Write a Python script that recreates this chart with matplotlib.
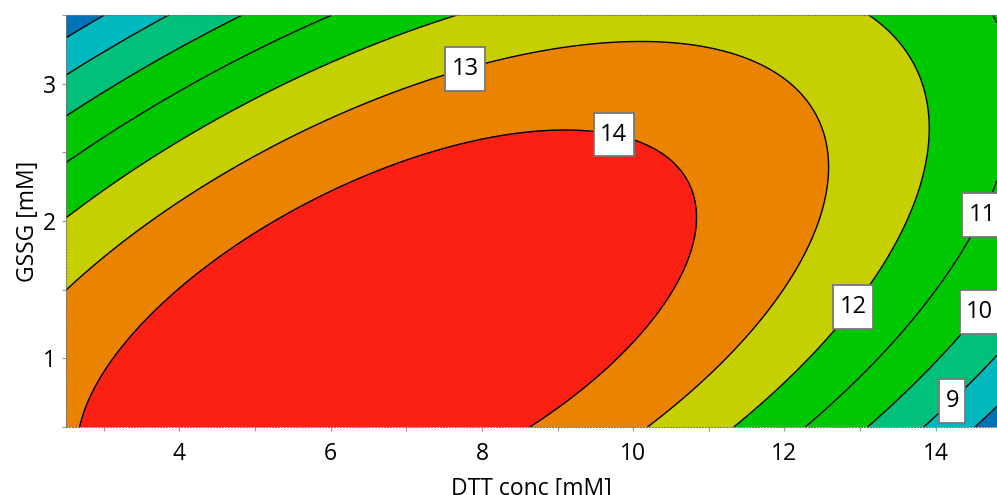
import numpy as np
import matplotlib
matplotlib.use("Agg")
from matplotlib import pyplot as plt
from matplotlib.path import Path
from matplotlib.ticker import MultipleLocator

plt.rcParams['font.family'] = ['Open Sans', 'DejaVu Sans']

# contour points, grouped by level
lvl8 = [(2.5, 3.327), (3.06, 3.51), (14.56, 0.513), (14.81, 0.65)]
lvl9 = [(2.5, 3.055), (3.88, 3.51), (13.885, 0.513), (14.81, 1.015), (14.2, 0.72)]
lvl10 = [(2.5, 2.764), (3.39, 3.13), (4.87, 3.51), (13.13, 0.513), (14.36, 1.18), (14.57, 1.33)]
lvl11 = [(2.5, 2.429), (4.28, 2.985), (6.03, 3.5), (14.78, 3.5), (14.81, 2.31),
         (14.19, 1.655), (12.74, 0.73), (12.30, 0.513)]
lvl12 = [(2.5, 2.015), (6.0, 3.145), (7.69, 3.5), (13.1, 3.5), (13.70, 3.13), (13.9, 2.695),
         (13.44, 1.8), (13.17, 1.53), (11.37, 0.513)]
lvl13 = [(2.5, 1.491), (6.0, 2.76), (7.55, 3.06), (8.07, 3.17), (10.4, 3.31), (11.9, 3.06),
         (12.51, 2.65), (12.58, 2.38), (12.3, 1.8), (10.36, 0.585), (10.22, 0.513)]
lvl14 = [(2.69, 0.513), (3.18, 1.07), (4.71, 1.8), (6.0, 2.22), (7.32, 2.505), (9.0, 2.67),
         (10.36, 2.505), (10.62, 2.40), (10.82, 2.04), (10.75, 1.8), (10.36, 1.36), (8.68, 0.513)]
traced = {8: lvl8, 9: lvl9, 10: lvl10, 11: lvl11, 12: lvl12, 13: lvl13, 14: lvl14}

levels = [8, 9, 10, 11, 12, 13, 14]
labelled = [9, 10, 11, 12, 13, 14]
band_colors = ['#0072b8', '#00b9be', '#00c07c', '#00c800', '#00c800',
               '#c6d000', '#e98300', '#fb2013']
label_pos = [(14.22, 0.69), (14.57, 1.34), (14.59, 2.05), (12.89, 1.38), (7.78, 3.11), (9.75, 2.65)]
xlim = (2.5, 14.81)
ylim = (0.5, 3.5)


def terms(x, y):
    u = (x - 8.5) / 6.0
    v = (y - 2.0) / 1.5
    return np.stack([np.ones_like(u), u, v, u*u, u*v, v*v, u**3, u*u*v, u*v*v, v**3], axis=-1)


def label_box(x0, y0, width, height, mutation_size):
    # square box, a bit more room above/below than at the sides
    px = 0.27 * mutation_size
    py = 0.42 * mutation_size
    x0, y0 = x0 - px, y0 - py
    x1, y1 = x0 + width + 2*px, y0 + height + 2*py
    return Path([(x0, y0), (x1, y0), (x1, y1), (x0, y1), (x0, y0)], closed=True)


# response surface fitted to the traced contour points
pts = np.array([(x, y, lv) for lv, p in traced.items() for x, y in p])
A = terms(pts[:, 0], pts[:, 1])
coef, *_ = np.linalg.lstsq(A, pts[:, 2], rcond=None)

gx = np.linspace(xlim[0], xlim[1], 400)
gy = np.linspace(ylim[0], ylim[1], 300)
X, Y = np.meshgrid(gx, gy)
Z = terms(X, Y) @ coef

fig = plt.figure(figsize=(9.97, 4.95), dpi=100)
ax = fig.add_axes([0.0662, 0.1374, 0.9338, 0.8323])

fill_levels = [min(Z.min(), 7) - 1] + levels + [max(Z.max(), 15) + 1]
ax.contourf(X, Y, Z, levels=fill_levels, colors=band_colors)
ax.contour(X, Y, Z, levels=[8], colors='black', linewidths=1.0)
cs = ax.contour(X, Y, Z, levels=labelled, colors='black', linewidths=1.0)
labels = ax.clabel(cs, manual=label_pos, inline=True, fmt='%d', fontsize=17, inline_spacing=2)
for t in labels:
    t.set_rotation(0)
    t.set_bbox(dict(boxstyle=label_box, facecolor='white', edgecolor='#777777', linewidth=1.3))

ax.set_xlim(*xlim)
ax.set_ylim(*ylim)
ax.xaxis.set_major_locator(MultipleLocator(2))
ax.xaxis.set_minor_locator(MultipleLocator(1))
ax.yaxis.set_major_locator(MultipleLocator(1))
ax.yaxis.set_minor_locator(MultipleLocator(0.5))
ax.tick_params(which='both', length=3, width=0.8, color='#999999', labelsize=16.5)
ax.tick_params(axis='x', pad=8)
ax.tick_params(axis='y', pad=4)
for s in ax.spines.values():
    s.set_linestyle(':')
    s.set_color('#777777')
    s.set_linewidth(0.8)

ax.set_xlabel('DTT conc [mM]', fontsize=16.5, labelpad=8)
ax.set_ylabel('GSSG [mM]', fontsize=16.5, labelpad=2)

fig.savefig('out.png', dpi=100)
